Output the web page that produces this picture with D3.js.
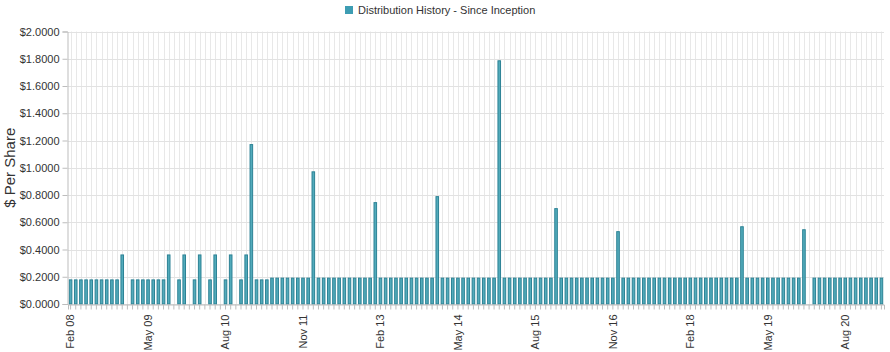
<!DOCTYPE html>
<html>
<head>
<meta charset="utf-8">
<script src="https://cdn.jsdelivr.net/npm/d3@7"></script>
<style>
  html, body { margin: 0; padding: 0; background: #fff; }
  svg { display: block; font-family: "Liberation Sans", Arial, sans-serif; }
</style>
</head>
<body>
<svg id="chart" width="890" height="352"></svg>
<script>
// ---- data ----
const startMonth = "2008-02";          // first category (Feb 08)
const monthCount = 158;                // Feb 08 ... Mar 21
const seriesName = "Distribution History - Since Inception";
const values = [
  0.177, 0.177, 0.177, 0.177, 0.177, 0.177, 0.177, 0.177, 0.177, 0.177, 0.36, null,
  0.177, 0.177, 0.177, 0.177, 0.177, 0.177, 0.177, 0.36, null, 0.177, 0.36, null,
  0.177, 0.36, null, 0.177, 0.36, null, 0.177, 0.36, null, 0.177, 0.36, 1.17,
  0.177, 0.177, 0.177, 0.19, 0.19, 0.19, 0.19, 0.19, 0.19, 0.19, 0.19, 0.97,
  0.19, 0.19, 0.19, 0.19, 0.19, 0.19, 0.19, 0.19, 0.19, 0.19, 0.19, 0.744,
  0.19, 0.19, 0.19, 0.19, 0.19, 0.19, 0.19, 0.19, 0.19, 0.19, 0.19, 0.788,
  0.19, 0.19, 0.19, 0.19, 0.19, 0.19, 0.19, 0.19, 0.19, 0.19, 0.19, 1.785,
  0.19, 0.19, 0.19, 0.19, 0.19, 0.19, 0.19, 0.19, 0.19, 0.19, 0.70,
  0.19, 0.19, 0.19, 0.19, 0.19, 0.19, 0.19, 0.19, 0.19, 0.19, 0.19, 0.531,
  0.19, 0.19, 0.19, 0.19, 0.19, 0.19, 0.19, 0.19, 0.19, 0.19, 0.19, 0.19,
  0.19, 0.19, 0.19, 0.19, 0.19, 0.19, 0.19, 0.19, 0.19, 0.19, 0.19, 0.567,
  0.19, 0.19, 0.19, 0.19, 0.19, 0.19, 0.19, 0.19, 0.19, 0.19, 0.19, 0.545,
  null, 0.19, 0.19, 0.19, 0.19, 0.19, 0.19, 0.19, 0.19, 0.19, 0.19, 0.19, 0.19, 0.19, 0.19
];
const tickLabels = ["Feb 08","May 09","Aug 10","Nov 11","Feb 13","May 14","Aug 15","Nov 16","Feb 18","May 19","Aug 20"];
const yTicks = [0, 0.2, 0.4, 0.6, 0.8, 1.0, 1.2, 1.4, 1.6, 1.8, 2.0];
const yTitle = "$ Per Share";

// ---- categories ----
const fmt = d3.timeFormat("%b %y");
const start = d3.timeParse("%Y-%m")(startMonth);
const categories = d3.range(monthCount).map(i => fmt(d3.timeMonth.offset(start, i)));

// ---- layout ----
const svg = d3.select("#chart");
const margin = { left: 68, right: 6, top: 31.5, bottom: 48 };
const W = 890, H = 352;
const x = d3.scaleBand().domain(categories).range([margin.left, W - margin.right]).paddingInner(0.5).paddingOuter(0.25);
const y = d3.scaleLinear().domain([0, 2]).range([304, margin.top]);

// vertical grid per category
svg.append("g").selectAll("line").data(categories).join("line")
  .attr("x1", d => Math.round(x(d) + x.bandwidth() / 2) + 0.5)
  .attr("x2", d => Math.round(x(d) + x.bandwidth() / 2) + 0.5)
  .attr("y1", y(2)).attr("y2", y(0))
  .attr("stroke", "#e8e8e8").attr("stroke-width", 1);

// horizontal grid
svg.append("g").selectAll("line").data(yTicks).join("line")
  .attr("x1", margin.left).attr("x2", W - margin.right)
  .attr("y1", d => Math.round(y(d)) + 0.5).attr("y2", d => Math.round(y(d)) + 0.5)
  .attr("stroke", "#e2e2e2");

// bars
const data = categories.map((c, i) => ({ c, v: values[i] })).filter(d => d.v != null);
svg.append("g").selectAll("rect").data(data).join("rect")
  .attr("x", d => x(d.c))
  .attr("width", x.bandwidth())
  .attr("y", d => y(d.v))
  .attr("height", d => y(0) - y(d.v))
  .attr("fill", "#52abbb")
  .attr("stroke", "#2c8295")
  .attr("stroke-width", 1);

// y axis
const yAxis = svg.append("g").attr("transform", `translate(${margin.left - 0.5},0)`)
  .call(d3.axisLeft(y).tickValues(yTicks).tickSize(5).tickPadding(3).tickFormat(d => "$" + d3.format(".4f")(d)));
yAxis.select(".domain").attr("stroke", "#bdbdbd");
yAxis.selectAll(".tick line").attr("stroke", "#bdbdbd");
yAxis.selectAll("text").attr("font-size", 11).attr("fill", "#333").attr("font-family", "Liberation Sans, Arial, sans-serif");

// x axis
const xAxis = svg.append("g").attr("transform", `translate(0,${y(0) + 0.5})`)
  .call(d3.axisBottom(x).tickSize(5).tickFormat(d => tickLabels.includes(d) ? d : ""));
xAxis.select(".domain").attr("stroke", "#bdbdbd");
xAxis.selectAll(".tick line").attr("stroke", "#bdbdbd");
xAxis.selectAll("text")
  .attr("font-size", 11).attr("fill", "#333").attr("font-family", "Liberation Sans, Arial, sans-serif")
  .attr("text-anchor", "end")
  .attr("transform", "rotate(-90)")
  .attr("x", -10).attr("y", 0).attr("dy", "0.35em");

// y title
svg.append("text")
  .attr("transform", `translate(15,${(y(0) + y(2)) / 2}) rotate(-90)`)
  .attr("text-anchor", "middle")
  .attr("font-size", 15).attr("fill", "#333")
  .text(yTitle);

// legend
const lg = svg.append("g").attr("transform", "translate(345,5)");
lg.append("rect").attr("width", 8).attr("height", 8).attr("y", 1).attr("fill", "#3d9db3");
lg.append("text").attr("x", 13).attr("y", 5).attr("dy", "0.35em")
  .attr("font-size", 11).attr("fill", "#333").text(seriesName);
</script>
</body>
</html>
